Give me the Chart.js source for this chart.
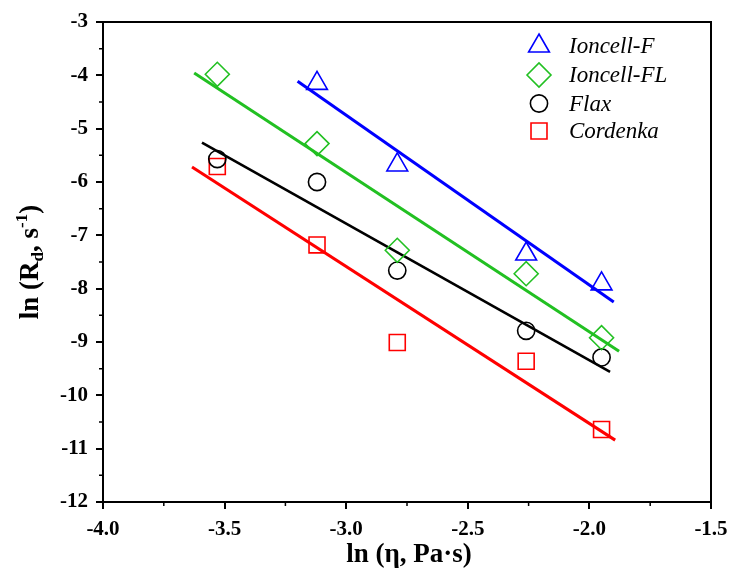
<!DOCTYPE html>
<html>
<head>
<meta charset="utf-8">
<script src="https://cdn.jsdelivr.net/npm/chart.js@4/dist/chart.umd.min.js"></script>
<style>
  html, body { margin: 0; padding: 0; background: #fff; }
  #wrap { width: 731px; height: 574px; }
</style>
</head>
<body>
<div id="wrap"><canvas id="c" width="731" height="574"></canvas></div>
<script>
// ---- data ----
const xAll = [-3.53, -3.12, -2.79, -2.26, -1.95];
const xIoncellF = [-3.12, -2.79, -2.26, -1.95];
const yIoncellF = [-4.15, -5.68, -7.35, -7.91];
const yIoncellFL = [-3.98, -5.28, -7.28, -7.72, -8.92];
const yFlax = [-5.57, -6.00, -7.66, -8.79, -9.29];
const yCordenka = [-5.71, -7.18, -9.01, -9.36, -10.64];

// fitted lines (end points)
const fitIoncellFX = [-3.20, -1.90];
const fitIoncellFY = [-4.11, -8.25];
const fitIoncellFLX = [-3.625, -1.878];
const fitIoncellFLY = [-3.956, -9.175];
const fitFlaxX = [-3.593, -1.915];
const fitFlaxY = [-5.262, -9.56];
const fitCordenkaX = [-3.634, -1.894];
const fitCordenkaY = [-5.719, -10.84];

const seriesNames = ['Ioncell-F', 'Ioncell-FL', 'Flax', 'Cordenka'];
const xTickValues = [-4.0, -3.5, -3.0, -2.5, -2.0, -1.5];
const yTickValues = [-3, -4, -5, -6, -7, -8, -9, -10, -11, -12];
const xMinorTicks = [-3.75, -3.25, -2.75, -2.25, -1.75];
const yMinorTicks = [-3.5, -4.5, -5.5, -6.5, -7.5, -8.5, -9.5, -10.5, -11.5];

// ---- styles ----
const BLUE = '#0000ff', GREEN = '#22c022', BLACK = '#000000', RED = '#ff0000';
const styles = [
  { color: BLUE, pointStyle: 'triangle', radius: 12 },
  { color: GREEN, pointStyle: 'rectRot', radius: 12 },
  { color: BLACK, pointStyle: 'circle', radius: 8.6 },
  { color: RED, pointStyle: 'rect', radius: 11.3 }
];

const zip = (xs, ys) => xs.map((x, i) => ({ x: x, y: ys[i] }));

function lineDs(xs, ys, color, w) {
  return { data: zip(xs, ys), showLine: true, borderColor: color, borderWidth: w,
           pointRadius: 0, pointHoverRadius: 0, fill: false, order: 2 };
}
function ptDs(xs, ys, st) {
  return { data: zip(xs, ys), showLine: false, borderColor: st.color,
           backgroundColor: 'rgba(0,0,0,0)', pointStyle: st.pointStyle,
           pointRadius: st.radius, pointHoverRadius: st.radius,
           pointBorderWidth: 1.6, order: 1 };
}

const datasets = [
  lineDs(fitIoncellFX, fitIoncellFY, BLUE, 3),
  lineDs(fitIoncellFLX, fitIoncellFLY, GREEN, 3),
  lineDs(fitFlaxX, fitFlaxY, BLACK, 2.6),
  lineDs(fitCordenkaX, fitCordenkaY, RED, 3),
  ptDs(xIoncellF, yIoncellF, styles[0]),
  ptDs(xAll, yIoncellFL, styles[1]),
  ptDs(xAll, yFlax, styles[2]),
  ptDs(xAll, yCordenka, styles[3])
];

const SERIF = '"Liberation Serif", "Times New Roman", serif';

function drawShape(ctx, st, x, y) {
  ctx.save();
  ctx.strokeStyle = st.color;
  ctx.fillStyle = 'rgba(0,0,0,0)';
  ctx.lineWidth = 1.6;
  if (Chart.helpers && Chart.helpers.drawPoint) {
    Chart.helpers.drawPoint(ctx, { pointStyle: st.pointStyle, radius: st.radius, rotation: 0, borderWidth: 1.6 }, x, y);
  }
  ctx.restore();
}

const decorPlugin = {
  id: 'decor',
  afterDraw(chart) {
    const ctx = chart.ctx;
    const a = chart.chartArea;
    const xs = chart.scales.x, ys = chart.scales.y;
    ctx.save();
    // frame
    ctx.strokeStyle = '#000';
    ctx.lineWidth = 2;
    ctx.strokeRect(a.left, a.top, a.right - a.left, a.bottom - a.top);
    // minor ticks
    ctx.lineWidth = 1.5;
    ctx.beginPath();
    xMinorTicks.forEach(v => {
      const p = xs.getPixelForValue(v);
      ctx.moveTo(p, a.bottom); ctx.lineTo(p, a.bottom + 4);
    });
    yMinorTicks.forEach(v => {
      const p = ys.getPixelForValue(v);
      ctx.moveTo(a.left, p); ctx.lineTo(a.left - 4, p);
    });
    ctx.stroke();

    // x title
    ctx.fillStyle = '#000';
    ctx.font = 'bold 27px ' + SERIF;
    ctx.textAlign = 'center';
    ctx.textBaseline = 'middle';
    ctx.fillText('ln (\u03b7, Pa\u00b7s)', (a.left + a.right) / 2 + 2, 555);

    // y title with sub/superscript
    ctx.save();
    ctx.translate(29, (a.top + a.bottom) / 2);
    ctx.rotate(-Math.PI / 2);
    ctx.textBaseline = 'alphabetic';
    ctx.textAlign = 'left';
    const big = 'bold 27px ' + SERIF, small = 'bold 17px ' + SERIF;
    const parts = [
      { t: 'ln (R', f: big, dy: 0 },
      { t: 'd', f: small, dy: 5 },
      { t: ', s', f: big, dy: 0 },
      { t: '-1', f: small, dy: -11 },
      { t: ')', f: big, dy: 0 }
    ];
    let total = 0;
    parts.forEach(p => { ctx.font = p.f; total += ctx.measureText(p.t).width; });
    let cx = -total / 2;
    parts.forEach(p => {
      ctx.font = p.f;
      ctx.fillText(p.t, cx, 9 + p.dy);
      cx += ctx.measureText(p.t).width;
    });
    ctx.restore();

    // legend
    const ly = [46, 75, 103.5, 131];
    ctx.font = 'italic 23px ' + SERIF;
    ctx.textAlign = 'left';
    ctx.textBaseline = 'middle';
    seriesNames.forEach((n, i) => {
      drawShape(ctx, styles[i], 539, ly[i]);
      ctx.fillStyle = '#000';
      ctx.fillText(n, 569, ly[i] + 1);
    });
    ctx.restore();
  }
};

new Chart(document.getElementById('c'), {
  type: 'scatter',
  data: { datasets: datasets },
  plugins: [decorPlugin],
  options: {
    responsive: false,
    animation: false,
    layout: { padding: { left: 0, top: 22, right: 20, bottom: 0 } },
    plugins: { legend: { display: false }, tooltip: { enabled: false } },
    scales: {
      x: {
        type: 'linear', min: -4, max: -1.5,
        afterBuildTicks(scale) { scale.ticks = xTickValues.map(v => ({ value: v })); },
        afterFit(scale) { scale.height = 72; scale.paddingLeft = 0; scale.paddingRight = 0; },
        border: { display: false },
        grid: { drawOnChartArea: false, drawTicks: true, tickLength: 7, color: '#000', lineWidth: 2 },
        ticks: {
          color: '#000', padding: 8, maxRotation: 0,
          font: { family: SERIF, size: 21, weight: 'bold' },
          callback: v => Number(v).toFixed(1)
        }
      },
      y: {
        type: 'linear', min: -12, max: -3,
        afterBuildTicks(scale) { scale.ticks = yTickValues.map(v => ({ value: v })); },
        afterFit(scale) { scale.width = 103; scale.paddingTop = 0; scale.paddingBottom = 0; },
        border: { display: false },
        grid: { drawOnChartArea: false, drawTicks: true, tickLength: 7, color: '#000', lineWidth: 2 },
        ticks: {
          color: '#000', padding: 8,
          font: { family: SERIF, size: 21, weight: 'bold' },
          callback: v => String(v)
        }
      }
    }
  }
});
</script>
</body>
</html>
